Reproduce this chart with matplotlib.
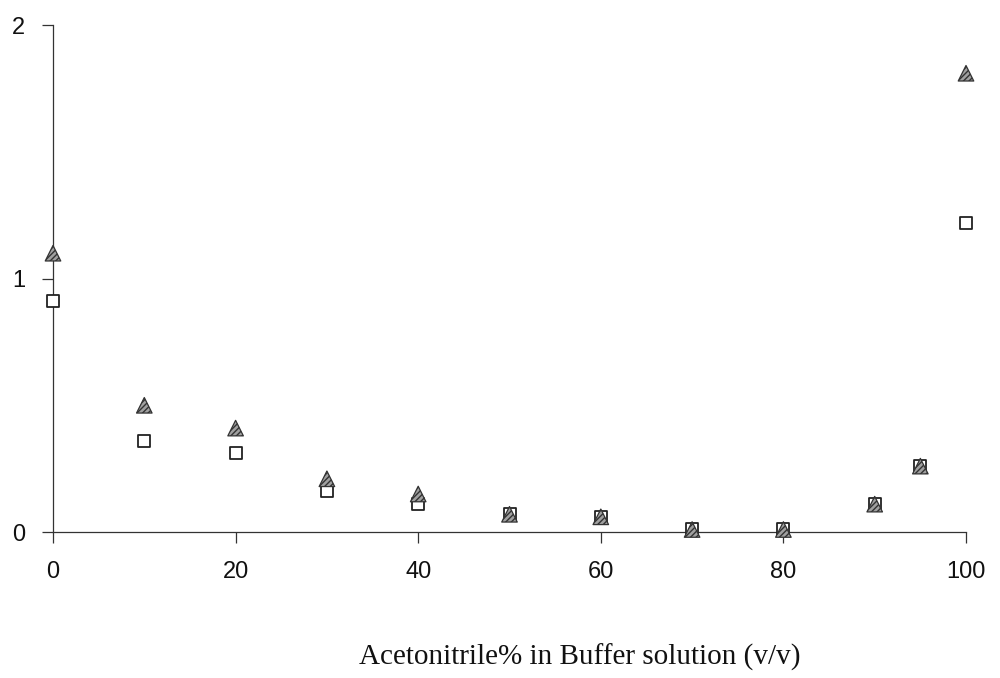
import matplotlib
matplotlib.use("Agg")
import matplotlib.pyplot as plt

# Acetonitrile content of the buffer (% v/v)
acetonitrile = [0, 10, 20, 30, 40, 50, 60, 70, 80, 90, 95, 100]
# Two measured series
series_triangle = [1.10, 0.50, 0.41, 0.21, 0.15, 0.07, 0.06, 0.01, 0.01, 0.11, 0.26, 1.81]
series_square = [0.91, 0.36, 0.31, 0.16, 0.11, 0.07, 0.06, 0.01, 0.01, 0.11, 0.26, 1.22]

x_ticks = [0, 20, 40, 60, 80, 100]
y_ticks = [0, 1, 2]

plt.rcParams["hatch.linewidth"] = 1.0

fig = plt.figure(figsize=(10, 6.78), dpi=100)
ax = fig.add_axes([0.053, 0.2153, 0.913, 0.7477])

ax.scatter(acetonitrile, series_square, marker="s", s=78,
           facecolor="white", edgecolor="#222222", linewidths=1.3,
           zorder=3, clip_on=False)
ax.scatter(acetonitrile, series_triangle, marker="^", s=125,
           facecolor="#a0a0a0", edgecolor="#333333", hatch="//////",
           linewidths=0.9, zorder=4, clip_on=False)

ax.set_xlim(0, 100)
ax.set_ylim(0, 2)
ax.set_xticks(x_ticks)
ax.set_yticks(y_ticks)

for side in ("top", "right"):
    ax.spines[side].set_visible(False)
for side in ("left", "bottom"):
    ax.spines[side].set_linewidth(0.9)
    ax.spines[side].set_color("#333333")

ax.tick_params(axis="x", direction="out", length=8, width=0.9, color="#333333",
               pad=13, labelsize=17)
ax.tick_params(axis="y", direction="out", length=8, width=0.9, color="#333333",
               pad=12, labelsize=17)
for lab in ax.get_xticklabels() + ax.get_yticklabels():
    lab.set_fontfamily("Liberation Sans")
    lab.set_color("#111111")

fig.text(0.580, 0.030, "Acetonitrile% in Buffer solution (v/v)", ha="center", va="center",
         fontsize=21, family="Liberation Serif", color="#111111")

fig.savefig("out.png", dpi=100, facecolor="white")
